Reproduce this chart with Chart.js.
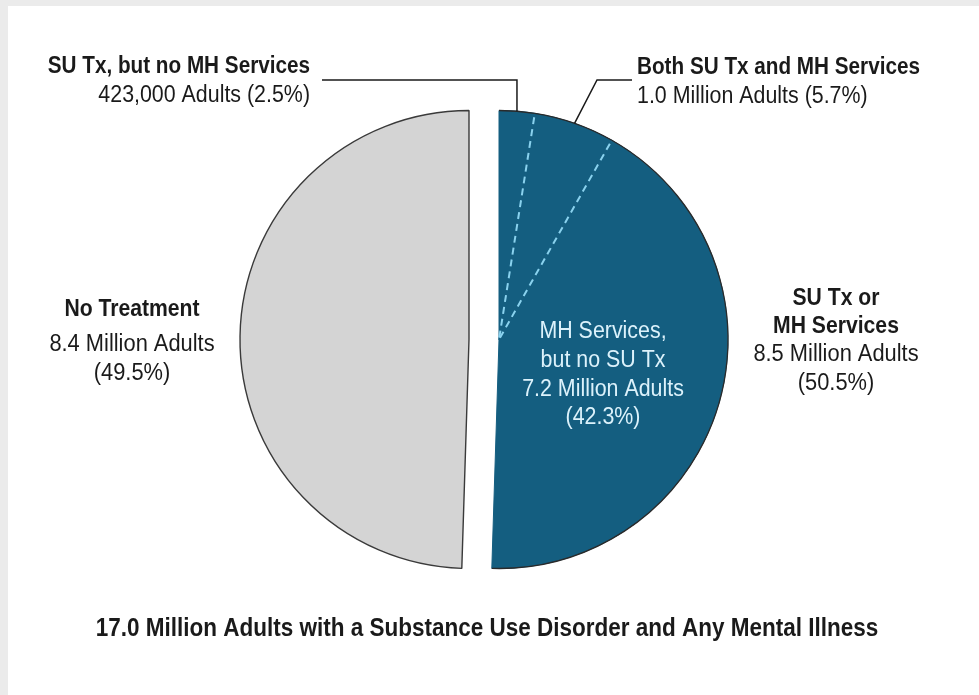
<!DOCTYPE html>
<html>
<head>
<meta charset="utf-8">
<title>Treatment among adults with SUD and AMI</title>
<script src="https://cdn.jsdelivr.net/npm/chart.js@4/dist/chart.umd.min.js"></script>
<style>
  html, body { margin: 0; padding: 0; background: #ffffff; }
  #wrap { width: 979px; height: 695px; position: relative; }
</style>
</head>
<body>
<div id="wrap"><canvas id="pie" width="979" height="695"></canvas></div>
<script>
// Slices, clockwise from 12 o'clock
const categories = [
  'SU Tx, but no MH Services',
  'Both SU Tx and MH Services',
  'MH Services, but no SU Tx',
  'No Treatment'
];
const adultCounts = ['423,000 Adults', '1.0 Million Adults', '7.2 Million Adults', '8.4 Million Adults'];
const percents = [2.5, 5.7, 42.3, 49.5];
// which half of the pie each slice belongs to
const sliceGroup = ['treated', 'treated', 'treated', 'untreated'];

const treatedGroupName = ['SU Tx or', 'MH Services'];
const treatedGroupCount = '8.5 Million Adults';
const treatedGroupPercent = 50.5;

const chartTitle = '17.0 Million Adults with a Substance Use Disorder and Any Mental Illness';

const BLUE = '#145e80';
const GRAY = '#d4d4d4';
const INK = '#1a1a1a';
const FACE = '"Liberation Sans", Arimo, Arial, sans-serif';

const pct = v => '(' + v.toFixed(1) + '%)';

// Pull the two halves of the pie apart horizontally
const splitHalves = {
  id: 'splitHalves',
  afterDatasetsUpdate(chart) {
    const meta = chart.getDatasetMeta(0);
    meta.data.forEach((arc, i) => {
      arc.x += sliceGroup[i] === 'treated' ? 15 : -15;
    });
  }
};

// Page backdrop: grey frame along the top and left
const backdrop = {
  id: 'backdrop',
  beforeDraw(chart) {
    const ctx = chart.ctx;
    ctx.save();
    ctx.fillStyle = '#ebebeb';
    ctx.fillRect(0, 0, chart.width, chart.height);
    ctx.fillStyle = '#ffffff';
    ctx.fillRect(8, 6, chart.width - 8, chart.height - 6);
    ctx.restore();
  }
};

// Condensed text: a horizontally squeezed sans face
function textLines(ctx, lines, x, align) {
  ctx.textAlign = align;
  ctx.textBaseline = 'alphabetic';
  lines.forEach(([txt, y, weight, size, color]) => {
    const bold = weight === 'bold';
    ctx.save();
    ctx.font = (bold ? 'bold' : 'normal') + ' ' + size + 'px ' + FACE;
    ctx.fillStyle = color || INK;
    ctx.translate(x, y);
    ctx.scale(bold ? 0.9 : 0.93, 1);
    ctx.fillText(txt, 0, 0);
    ctx.restore();
  });
}

// Outer rim, dashed slice separators, leader lines and labels
const annotate = {
  id: 'annotate',
  afterDatasetsDraw(chart) {
    const ctx = chart.ctx;
    const arcs = chart.getDatasetMeta(0).data;
    ctx.save();

    // dark rim along the treated half
    ctx.strokeStyle = '#2a2a2a';
    ctx.lineWidth = 1.3;
    arcs.forEach((a, i) => {
      if (sliceGroup[i] !== 'treated') return;
      ctx.beginPath();
      ctx.arc(a.x, a.y, a.outerRadius, a.startAngle, a.endAngle);
      ctx.stroke();
    });

    // dashed separators between treated slices
    ctx.strokeStyle = '#8ad2ee';
    ctx.lineWidth = 2;
    ctx.setLineDash([7, 5]);
    arcs.forEach((a, i) => {
      if (i === 0 || sliceGroup[i] !== 'treated' || sliceGroup[i - 1] !== 'treated') return;
      const r = a.outerRadius - 4;
      ctx.beginPath();
      ctx.moveTo(a.x + Math.cos(a.startAngle) * r, a.y + Math.sin(a.startAngle) * r);
      ctx.lineTo(a.x, a.y);
      ctx.stroke();
    });
    ctx.setLineDash([]);

    // leader lines for the two thin slices
    const rimPoint = a => {
      const mid = (a.startAngle + a.endAngle) / 2;
      return [a.x + Math.cos(mid) * a.outerRadius, a.y + Math.sin(mid) * a.outerRadius];
    };
    ctx.strokeStyle = INK;
    ctx.lineWidth = 1.5;
    let [px, py] = rimPoint(arcs[0]);
    ctx.beginPath();
    ctx.moveTo(px, py);
    ctx.lineTo(px, 80);
    ctx.lineTo(322, 80);
    ctx.stroke();
    [px, py] = rimPoint(arcs[1]);
    ctx.beginPath();
    ctx.moveTo(px, py);
    ctx.lineTo(597, 80);
    ctx.lineTo(632, 80);
    ctx.stroke();

    // labels
    textLines(ctx, [
      [categories[0], 73, 'bold', 23],
      [adultCounts[0] + ' ' + pct(percents[0]), 102, 'normal', 23]
    ], 310, 'right');
    textLines(ctx, [
      [categories[1], 74, 'bold', 23],
      [adultCounts[1] + ' ' + pct(percents[1]), 103, 'normal', 23]
    ], 637, 'left');
    textLines(ctx, [
      [categories[3], 316, 'bold', 23.5],
      [adultCounts[3], 351, 'normal', 23.5],
      [pct(percents[3]), 380, 'normal', 23.5]
    ], 132, 'center');
    textLines(ctx, [
      [treatedGroupName[0], 305, 'bold', 23.5],
      [treatedGroupName[1], 333, 'bold', 23.5],
      [treatedGroupCount, 361, 'normal', 23.5],
      [pct(treatedGroupPercent), 390, 'normal', 23.5]
    ], 836, 'center');
    const inner = '#dcf2fb';
    const [c0, c1] = categories[2].split(', ');
    textLines(ctx, [
      [c0 + ',', 338, 'normal', 23, inner],
      [c1, 367, 'normal', 23, inner],
      [adultCounts[2], 396, 'normal', 23, inner],
      [pct(percents[2]), 424, 'normal', 23, inner]
    ], 603, 'center');

    textLines(ctx, [[chartTitle, 636, 'bold', 25]], 487, 'center');
    ctx.restore();
  }
};

new Chart(document.getElementById('pie'), {
  type: 'pie',
  data: {
    labels: categories,
    datasets: [{
      data: percents,
      backgroundColor: sliceGroup.map(g => g === 'treated' ? BLUE : GRAY),
      borderColor: sliceGroup.map(g => g === 'treated' ? BLUE : '#3a3a3a'),
      borderWidth: sliceGroup.map(g => g === 'treated' ? 1 : 1.4)
    }]
  },
  options: {
    responsive: false,
    devicePixelRatio: 1,
    animation: false,
    events: [],
    radius: 229,
    layout: { padding: { left: 0, right: 11, top: 110, bottom: 126 } },
    plugins: { legend: { display: false }, tooltip: { enabled: false } }
  },
  plugins: [backdrop, splitHalves, annotate]
});
</script>
</body>
</html>
